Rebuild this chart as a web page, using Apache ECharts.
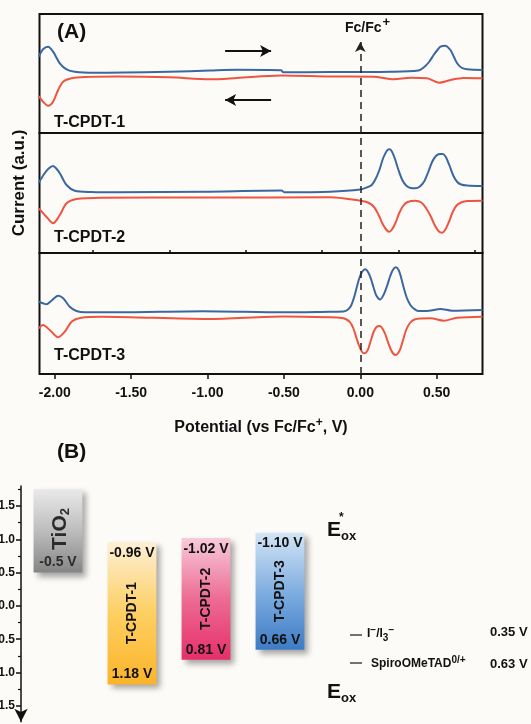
<!DOCTYPE html>
<html>
<head>
<meta charset="utf-8">
<title>T-CPDT cyclic voltammetry and energy levels</title>
<script src="https://cdn.jsdelivr.net/npm/echarts@6/dist/echarts.min.js"></script>
<style>
  html, body { margin: 0; padding: 0; background: #fdfbf8; }
  #chart { width: 531px; height: 724px; }
</style>
</head>
<body>
<div id="chart"></div>
<script>
// (A) cyclic voltammograms, potential in V vs Fc/Fc+, current in a.u. (per panel)
const cvNames = ['T-CPDT-1', 'T-CPDT-2', 'T-CPDT-3'];

const p1Forward = [[-2.105, 76.3], [-2.077, 83.7], [-2.044, 86.3], [-2.011, 81.3], [-1.967, 69.7], [-1.923, 63.7],
  [-1.869, 61.3], [-1.738, 60.3], [-1.25, 61.3], [-0.984, 62.5], [-0.807, 63.2], [-0.518, 62.8], [-0.505, 60.7],
  [-0.197, 61], [0.2, 61.3], [0.38, 62.5], [0.415, 65.5], [0.45, 71], [0.48, 78], [0.505, 83], [0.525, 86.3],
  [0.557, 87.3], [0.59, 83], [0.612, 76.5], [0.634, 69.7], [0.66, 65.5], [0.7, 63.7], [0.8, 63]];
const p1Reverse = [[-2.105, 37], [-2.077, 31.3], [-2.044, 27.3], [-2.011, 31.3], [-1.978, 43], [-1.945, 51.3],
  [-1.89, 54.7], [-1.803, 56], [-1.587, 56.5], [-1.25, 55.7], [-0.984, 53.7], [-0.807, 55], [-0.518, 57.5],
  [-0.197, 56.5], [0.087, 56.3], [0.219, 53.7], [0.328, 55.3], [0.437, 54.7], [0.514, 50.3], [0.59, 53],
  [0.677, 55], [0.8, 54.7]];

const p2Forward = [[-2.105, 70.3], [-2.066, 79.7], [-2.04, 84.5], [-2.011, 87], [-1.99, 84.5], [-1.967, 79.7],
  [-1.923, 68], [-1.869, 62.3], [-1.76, 61], [-1.587, 60.7], [-1.027, 61.3], [-0.515, 62.5], [-0.498, 60.8],
  [-0.197, 61.3], [0.0, 63.5], [0.05, 66], [0.075, 68], [0.1, 74], [0.125, 83], [0.15, 95], [0.175, 102.5],
  [0.19, 103.7], [0.205, 102], [0.225, 95], [0.25, 83], [0.275, 73], [0.3, 67.5], [0.33, 65], [0.36, 64.7],
  [0.39, 66.5], [0.42, 72], [0.445, 81], [0.47, 91], [0.495, 97], [0.52, 99], [0.54, 99], [0.56, 96],
  [0.585, 87], [0.61, 77], [0.635, 71], [0.66, 68.5], [0.7, 67.5], [0.8, 67]];
const p2Reverse = [[-2.105, 44.7], [-2.055, 36.3], [-2.011, 29.7], [-1.967, 38], [-1.923, 49.7], [-1.858, 54],
  [-1.694, 55.3], [-1.0, 55.5], [-0.197, 55.7], [0.0, 52.3], [0.05, 50.5], [0.09, 46], [0.12, 38], [0.15, 28],
  [0.175, 22.5], [0.19, 21.3], [0.205, 23], [0.23, 30], [0.255, 40], [0.28, 47], [0.31, 51], [0.36, 52.3],
  [0.4, 50.5], [0.43, 45], [0.46, 37], [0.49, 27], [0.515, 21.5], [0.535, 20.3], [0.555, 23], [0.58, 31],
  [0.605, 41], [0.63, 47.5], [0.66, 50.5], [0.7, 52], [0.8, 52.3]];

const p3Forward = [[-2.105, 72.3], [-2.077, 70.7], [-2.055, 69.7], [-2.022, 73.3], [-1.978, 78.3], [-1.945, 75.7],
  [-1.902, 67.3], [-1.858, 63], [-1.803, 61.7], [-1.585, 61.7], [-1.03, 62.7], [-0.5, 61.7], [-0.197, 62.3],
  [-0.11, 62.5], [-0.08, 64.5], [-0.06, 68.5], [-0.04, 77], [-0.022, 87.5], [-0.006, 96], [0.011, 102],
  [0.033, 104.7], [0.054, 101], [0.07, 95], [0.087, 86.5], [0.105, 78.5], [0.131, 74.5], [0.155, 80],
  [0.175, 88], [0.195, 97.5], [0.213, 104], [0.232, 106.7], [0.251, 104], [0.268, 96], [0.284, 86.5],
  [0.305, 76], [0.328, 69], [0.35, 65.5], [0.38, 63], [0.45, 63.3], [0.525, 65], [0.6, 63.3], [0.8, 64]];
const p3Reverse = [[-2.105, 45.7], [-2.077, 49], [-2.033, 44], [-1.978, 36.7], [-1.934, 42.3], [-1.89, 52.3],
  [-1.825, 56.3], [-1.694, 57.3], [-1.0, 55], [-0.5, 57.5], [-0.197, 56.7], [-0.12, 56], [-0.09, 54.5],
  [-0.066, 51.5], [-0.045, 45.5], [-0.025, 36], [-0.006, 27.5], [0.01, 22.5], [0.024, 20.7], [0.038, 21.5],
  [0.052, 25], [0.068, 33], [0.087, 42], [0.106, 47], [0.127, 48], [0.145, 45.5], [0.164, 39.5],
  [0.182, 31.5], [0.2, 24.5], [0.215, 20.5], [0.231, 19], [0.246, 20.5], [0.262, 25], [0.28, 34], [0.3, 44],
  [0.325, 51], [0.355, 54.5], [0.4, 55.5], [0.46, 55.7], [0.547, 53.3], [0.634, 56.3], [0.8, 57.3]];

const xMajorTicks = [-2.0, -1.5, -1.0, -0.5, 0.0, 0.5];
const xMinorTicks = [-1.75, -1.25, -0.75, -0.25, 0.25, 0.75];

// (B) energy levels, V
const levelNames = ['TiO2', 'T-CPDT-1', 'T-CPDT-2', 'T-CPDT-3'];
const levelTop = [-1.75, -0.96, -1.02, -1.10];
const levelBottom = [-0.5, 1.18, 0.81, 0.66];
const topLabels = ['', '-0.96 V', '-1.02 V', '-1.10 V'];
const bottomLabels = ['-0.5 V', '1.18 V', '0.81 V', '0.66 V'];
const levelTicks = [-1.5, -1.0, -0.5, 0.0, 0.5, 1.0, 1.5];
const levelMinorTicks = [-1.75, -1.25, -0.75, -0.25, 0.25, 0.75, 1.25];
const coupleLabels = ['0.35 V', '0.63 V'];

const F = 'Liberation Sans, Arial, sans-serif';
const BLUE = '#3b67a0';
const RED = '#ef5441';
// top / middle / bottom colours of each level box
const boxColors = [
  ['#e9e9e9', '#bdbdbd', '#858585'],
  ['#fdf0d6', '#fdcf62', '#fbb429'],
  ['#f7cbda', '#ed6b95', '#e52f6a'],
  ['#d3e5f6', '#80aee0', '#3d7bc5']
];

// panel rectangles of (A)
const gridTops = [14, 133, 253];
const gridHeights = [119, 120, 121];

const chart = echarts.init(document.getElementById('chart'));

function cvLine(data, color, idx, extra) {
  return Object.assign({
    type: 'line', data: data, xAxisIndex: idx, yAxisIndex: idx,
    showSymbol: false, smooth: 0.3, silent: true,
    lineStyle: { color: color, width: 2 }
  }, extra || {});
}

function boldText(x, y, text, size, extra) {
  return Object.assign({
    type: 'text', x: x, y: y, silent: true,
    style: Object.assign({ text: text, fontFamily: F, fontWeight: 'bold', fontSize: size,
      fill: '#111', align: 'left', verticalAlign: 'middle' }, (extra && extra.style) || {})
  }, extra && extra.rotation ? { rotation: extra.rotation } : {});
}

const grids = gridTops.map((t, i) => ({
  left: 39.5, right: 48.5, top: t, height: gridHeights[i], outerBoundsMode: 'none',
  show: true, borderColor: '#111', borderWidth: 2, backgroundColor: 'transparent'
}));
grids.push({ left: 21, top: 486, width: 296, height: 235.8, outerBoundsMode: 'none' });

const xAxes = [0, 1, 2].map(i => ({
  gridIndex: i, type: 'value', min: -2.1, max: 0.8, show: i === 2,
  axisLine: { show: false }, splitLine: { show: false },
  axisTick: { show: true, length: 5, customValues: xMajorTicks, lineStyle: { color: '#111', width: 1.5 } },
  axisLabel: { customValues: xMajorTicks, formatter: v => v.toFixed(2), margin: 12,
    fontFamily: F, fontWeight: 'bold', fontSize: 14, color: '#111' },
  name: i === 2 ? '{t|Potential (vs Fc/Fc}{s|+}{t|, V)}' : '',
  nameLocation: 'middle', nameGap: 43,
  nameTextStyle: { rich: {
    t: { fontFamily: F, fontWeight: 'bold', fontSize: 16, color: '#111' },
    s: { fontFamily: F, fontWeight: 'bold', fontSize: 12, color: '#111', padding: [0, 0, 9, 0] }
  } }
}));
xAxes.push({
  gridIndex: 2, type: 'value', min: -2.1, max: 0.8,
  axisLine: { show: false }, splitLine: { show: false }, axisLabel: { show: false },
  axisTick: { show: true, length: 3, customValues: xMinorTicks, lineStyle: { color: '#111', width: 1.5 } }
});
xAxes.push({ gridIndex: 3, type: 'category', data: levelNames, show: false });

const yAxes = [0, 1, 2].map(i => ({
  gridIndex: i, type: 'value', min: 0, max: gridHeights[i], show: false
}));
yAxes.push({
  gridIndex: 3, type: 'value', position: 'left', inverse: true, min: -1.8, max: 1.74,
  splitLine: { show: false },
  axisLine: { show: true, symbol: ['arrow', 'none'], symbolSize: [10, 13], lineStyle: { color: '#111', width: 1.5 } },
  axisTick: { show: true, length: 5, customValues: levelTicks, lineStyle: { color: '#111', width: 1.5 } },
  axisLabel: { customValues: levelTicks, formatter: v => v.toFixed(1), margin: 6,
    fontFamily: F, fontWeight: 'bold', fontSize: 12, color: '#111' }
});
yAxes.push({
  gridIndex: 3, type: 'value', position: 'left', offset: 0, inverse: true, min: -1.8, max: 1.74,
  splitLine: { show: false }, axisLine: { show: false }, axisLabel: { show: false },
  axisTick: { show: true, length: 3, customValues: levelMinorTicks, lineStyle: { color: '#111', width: 1.2 } }
});

const dashStyle = { color: '#222', type: [7, 5], width: 1.5 };

const series = [
  cvLine(p1Forward, BLUE, 0, {
    markLine: {
      silent: true, animation: false, symbol: ['none', 'arrow'], symbolSize: [9, 11],
      label: { show: false }, lineStyle: { color: '#111', type: 'solid', width: 2 },
      data: [
        [{ coord: [-0.885, 82] }, { coord: [-0.584, 82] }],
        [{ coord: [-0.584, 33] }, { coord: [-0.885, 33] }]
      ]
    }
  }),
  cvLine(p1Reverse, RED, 0, {
    markLine: {
      silent: true, animation: false, symbol: ['none', 'arrow'], symbolSize: [8, 10],
      label: { show: false }, lineStyle: dashStyle,
      data: [[{ coord: [0, 0] }, { coord: [0, 91] }]]
    }
  }),
  cvLine(p2Forward, BLUE, 1),
  cvLine(p2Reverse, RED, 1, {
    markLine: { silent: true, animation: false, symbol: 'none', label: { show: false },
      lineStyle: dashStyle, data: [{ xAxis: 0 }] }
  }),
  cvLine(p3Forward, BLUE, 2),
  cvLine(p3Reverse, RED, 2, {
    markLine: { silent: true, animation: false, symbol: 'none', label: { show: false },
      lineStyle: dashStyle, data: [{ xAxis: 0 }] }
  }),
  {
    type: 'custom', xAxisIndex: 4, yAxisIndex: 3, silent: true,
    data: levelTop.map((t, i) => [i, t, levelBottom[i]]),
    encode: { x: 0, y: [1, 2] },
    renderItem: function (params, api) {
      const i = api.value(0);
      const p0 = api.coord([i, api.value(1)]);
      const p1 = api.coord([i, api.value(2)]);
      const bw = api.size([1, 0])[0] * 0.66;
      const cx = p0[0];
      const c = boxColors[i];
      const txt = (x, y, text, size, rot, rich) => ({
        type: 'text', x: x, y: y, rotation: rot || 0,
        style: { text: text, fontFamily: F, fontWeight: 'bold', fontSize: size,
          fill: i === 0 ? '#2b2b2b' : '#111', align: 'center', verticalAlign: 'middle', rich: rich }
      });
      const children = [{
        type: 'rect',
        shape: { x: cx - bw / 2, y: p0[1], width: bw, height: p1[1] - p0[1] },
        style: {
          fill: new echarts.graphic.LinearGradient(0, 0, 0, 1, [
            { offset: 0, color: c[0] }, { offset: 0.5, color: c[1] }, { offset: 1, color: c[2] }]),
          shadowBlur: 6, shadowOffsetX: 4, shadowOffsetY: 4, shadowColor: 'rgba(0,0,0,0.35)'
        }
      }];
      if (topLabels[i]) children.push(txt(cx, p0[1] + 11, topLabels[i], 14));
      children.push(txt(cx, p1[1] - 10, bottomLabels[i], 14));
      if (i === 0) {
        children.push(txt(cx + 2, (p0[1] + p1[1]) / 2 - 2, '{a|TiO}{b|2}', 21, Math.PI / 2, {
          a: { fontFamily: F, fontWeight: 'bold', fontSize: 21, fill: '#2b2b2b' },
          b: { fontFamily: F, fontWeight: 'bold', fontSize: 13, fill: '#2b2b2b', padding: [10, 0, 0, 0] }
        }));
      } else {
        children.push(txt(cx, (p0[1] + p1[1]) / 2, levelNames[i], 14, Math.PI / 2));
      }
      return { type: 'group', children: children };
    }
  }
];

const richSup = { fontFamily: F, fontWeight: 'bold', fontSize: 10, fill: '#111', padding: [0, 0, 8, 0] };
const richSub = { fontFamily: F, fontWeight: 'bold', fontSize: 10, fill: '#111', padding: [8, 0, 0, 0] };
const richMain = { fontFamily: F, fontWeight: 'bold', fontSize: 12, fill: '#111' };

const graphics = [
  boldText(57, 32, '(A)', 21),
  boldText(345, 28, '{m|Fc/Fc}{s|+}', 14, { style: { rich: {
    m: { fontFamily: F, fontWeight: 'bold', fontSize: 14, fill: '#111' },
    s: { fontFamily: F, fontWeight: 'bold', fontSize: 13, fill: '#111', padding: [0, 0, 11, 1] } } } }),
  boldText(54, 123, cvNames[0], 16),
  boldText(54, 238, cvNames[1], 16),
  boldText(54, 356, cvNames[2], 16),
  boldText(19, 183, 'Current (a.u.)', 17, { rotation: Math.PI / 2, style: { align: 'center' } }),
  boldText(57, 452, '(B)', 21),
  boldText(327, 530, '{e|E}{o|ox}', 21, { style: { rich: {
    e: { fontFamily: F, fontWeight: 'bold', fontSize: 21, fill: '#111' },
    o: { fontFamily: F, fontWeight: 'bold', fontSize: 13, fill: '#111', padding: [12, 0, 0, 0] } } } }),
  boldText(339, 518, '*', 12),
  boldText(327, 692, '{e|E}{o|ox}', 21, { style: { rich: {
    e: { fontFamily: F, fontWeight: 'bold', fontSize: 21, fill: '#111' },
    o: { fontFamily: F, fontWeight: 'bold', fontSize: 13, fill: '#111', padding: [12, 0, 0, 0] } } } }),
  { type: 'line', silent: true, shape: { x1: 350, y1: 635, x2: 362, y2: 635 }, style: { stroke: '#444', lineWidth: 1.5 } },
  boldText(367, 634, '{m|I}{p|\u2212}{m|/I}{b|3}{p|\u2212}', 12, { style: { rich: { m: richMain, p: richSup, b: richSub } } }),
  boldText(490, 632, coupleLabels[0], 13),
  { type: 'line', silent: true, shape: { x1: 350, y1: 663, x2: 362, y2: 663 }, style: { stroke: '#444', lineWidth: 1.5 } },
  boldText(371, 664, '{m|SpiroOMeTAD}{p|0/+}', 12, { style: { rich: { m: richMain, p: richSup } } }),
  boldText(490, 664, coupleLabels[1], 13)
];

chart.setOption({
  animation: false,
  backgroundColor: '#fdfbf8',
  grid: grids,
  xAxis: xAxes,
  yAxis: yAxes,
  series: series,
  graphic: { elements: graphics }
});
</script>
</body>
</html>
